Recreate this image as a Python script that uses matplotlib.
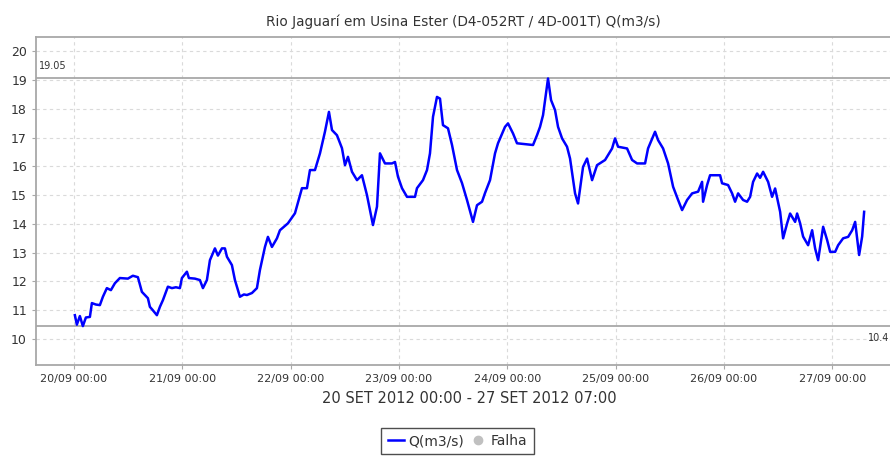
import numpy as np
import pandas as pd
import matplotlib
matplotlib.use("Agg")
import matplotlib.pyplot as plt
import matplotlib.dates as mdates
from matplotlib.lines import Line2D

# --- Data (hours since 20/09/2012 00:00, discharge m3/s) ---
hours = [0.22, 0.66, 1.33, 1.99, 2.66, 3.55, 3.99, 4.88, 5.76, 6.43, 7.31, 8.2, 9.09,
         10.19, 11.97, 13.07, 14.18, 15.07, 16.4, 16.84, 17.5, 18.39, 19.06, 19.72,
         20.83, 21.72, 22.6, 23.49, 23.93, 25.04, 25.48, 26.81, 27.92, 28.59, 29.47,
         30.14, 31.25, 31.91, 32.8, 33.46, 33.91, 35.01, 35.68, 36.79, 37.67, 38.34,
         39.45, 40.55, 41.22, 42.33, 42.99, 43.88, 44.99, 45.65, 47.42, 48.98, 50.53,
         51.63, 52.3, 53.41, 54.52, 55.62, 56.51, 57.18, 58.28, 59.39, 60.06, 60.72,
         61.61, 62.72, 63.82, 64.93, 66.26, 67.15, 67.81, 68.92, 70.47, 71.14, 71.8,
         72.69, 73.8, 75.57, 76.01, 77.34, 78.23, 78.89, 79.56, 80.44, 81.11, 81.77,
         82.88, 83.77, 84.88, 85.98, 87.09, 88.42, 89.31, 90.42, 91.08, 92.19, 93.3,
         93.96, 95.51, 96.18, 97.29, 98.17, 99.94, 101.72, 102.6, 103.27, 103.94,
         105.04, 105.71, 106.6, 107.26, 108.15, 109.25, 109.92, 111.03, 111.69, 112.8,
         113.69, 114.8, 115.9, 117.68, 119.23, 119.89, 120.56, 122.55, 123.66, 124.77,
         126.54, 127.2, 128.75, 129.42, 130.53, 131.64, 132.75, 133.86, 134.74, 135.85,
         136.96, 138.29, 139.17, 139.39, 140.28, 140.94, 143.16, 143.6, 144.93, 145.82,
         146.48, 147.15, 148.26, 149.14, 149.81, 150.47, 151.36, 152.02, 152.69, 153.8,
         154.68, 155.35, 156.46, 157.12, 158.01, 158.67, 159.78, 160.22, 160.89, 161.55,
         162.66, 163.55, 164.21, 164.88, 165.99, 166.87, 167.54, 168.65, 169.31, 170.42,
         171.53, 172.42, 173.08, 173.52, 173.96, 174.63, 175.07]
vazao = [10.83, 10.5, 10.8, 10.45, 10.75, 10.77, 11.25, 11.2, 11.18, 11.47, 11.77, 11.7, 11.94,
         12.12, 12.1, 12.2, 12.15, 11.64, 11.42, 11.12, 11.0, 10.83, 11.12, 11.35,
         11.82, 11.77, 11.8, 11.77, 12.12, 12.34, 12.12, 12.1, 12.05, 11.77, 12.05,
         12.74, 13.15, 12.9, 13.15, 13.15, 12.86, 12.57, 12.05, 11.47, 11.55, 11.53,
         11.6, 11.77, 12.4, 13.2, 13.55, 13.2, 13.5, 13.78, 14.02, 14.37, 15.24,
         15.24, 15.87, 15.87, 16.45, 17.2, 17.89, 17.26, 17.08, 16.63, 16.04, 16.33,
         15.81, 15.52, 15.69, 15.0, 13.96, 14.6, 16.45, 16.1, 16.1, 16.15, 15.64,
         15.24, 14.94, 14.94, 15.24, 15.52, 15.87, 16.45, 17.72, 18.41, 18.35, 17.43,
         17.32, 16.74, 15.87, 15.42, 14.83, 14.07, 14.65, 14.77, 15.07, 15.52, 16.45,
         16.8, 17.37, 17.49, 17.14, 16.8, 16.77, 16.74, 17.08, 17.37, 17.78,
         19.05, 18.3, 17.95, 17.37, 16.97, 16.68, 16.27, 15.06, 14.71, 15.98,
         16.27, 15.52, 16.04, 16.22, 16.62, 16.97, 16.68, 16.62, 16.22, 16.1,
         16.1, 16.62, 17.2, 16.91, 16.62, 16.1, 15.29, 14.83, 14.48, 14.83,
         15.06, 15.12, 15.46, 14.77, 15.35, 15.69, 15.69, 15.41, 15.35, 15.06,
         14.77, 15.06, 14.83, 14.77, 14.94, 15.46, 15.75, 15.6, 15.81, 15.46,
         14.94, 15.23, 14.42, 13.5, 14.02, 14.36, 14.07, 14.36, 14.02, 13.56,
         13.26, 13.78, 13.15, 12.74, 13.9, 13.44, 13.03, 13.03, 13.26, 13.5,
         13.55, 13.78, 14.07, 13.5, 12.92, 13.56, 14.42]
q_max = 19.05
q_min = 10.45

inicio = pd.Timestamp("2012-09-20 00:00")
tempos = inicio + pd.to_timedelta(hours, unit="h")

cinza = "#a8a8a8"
texto = "#333333"

fig = plt.figure(figsize=(8.9, 4.57), dpi=100)
ax = fig.add_axes([0.0404, 0.2013, 0.9596, 0.7177])

ax.plot(tempos, vazao, color="#0000ff", lw=1.8, zorder=3)
ax.axhline(q_max, color=cinza, lw=1.3, zorder=2)
ax.axhline(q_min, color=cinza, lw=1.3, zorder=2)

ax.set_xlim(inicio - pd.Timedelta(hours=8.4), inicio + pd.Timedelta(hours=180.8))
ax.set_ylim(9.1, 20.49)
ax.set_yticks(range(10, 21))

ax.xaxis.set_major_locator(mdates.DayLocator())
ax.xaxis.set_major_formatter(mdates.DateFormatter("%d/%m %H:%M"))

ax.grid(True, color="#dadada", ls=(0, (3, 3)), lw=0.8)
for lado in ["top", "left", "bottom"]:
    ax.spines[lado].set_color(cinza)
    ax.spines[lado].set_linewidth(1.3)
ax.spines["right"].set_visible(False)
ax.tick_params(colors=cinza, labelcolor=texto, length=3)
ax.tick_params(axis="x", labelsize=8)
ax.tick_params(axis="y", labelsize=9)

ax.text(0.004, (q_max + 0.25 - 9.1) / (20.49 - 9.1), "19.05", transform=ax.transAxes,
        fontsize=7, color=texto, va="bottom", ha="left")
ax.text(0.999, (q_min - 0.25 - 9.1) / (20.49 - 9.1), "10.4", transform=ax.transAxes,
        fontsize=7, color=texto, va="top", ha="right")

ax.set_title("Rio Jaguarí em Usina Ester (D4-052RT / 4D-001T) Q(m3/s)",
             fontsize=9.8, color=texto, pad=8)
ax.set_xlabel("20 SET 2012 00:00 - 27 SET 2012 07:00", fontsize=10.5, color=texto, labelpad=5)
ax.xaxis.label.set_x(0.508)

handles = [Line2D([], [], color="#0000ff", lw=1.8),
           Line2D([], [], color="#c0c0c0", marker="o", ls="none", ms=6)]
leg = fig.legend(handles, ["Q(m3/s)", "Falha"], loc="upper center",
                 bbox_to_anchor=(0.514, 0.064), ncol=2, fontsize=10, frameon=True,
                 fancybox=False, handlelength=1.2, handletextpad=0.3, columnspacing=0.4,
                 borderpad=0.45, borderaxespad=0)
leg.get_frame().set_edgecolor("#222222")
leg.get_frame().set_linewidth(1.0)
for t in leg.get_texts():
    t.set_color(texto)

fig.savefig("out.png", dpi=100)
